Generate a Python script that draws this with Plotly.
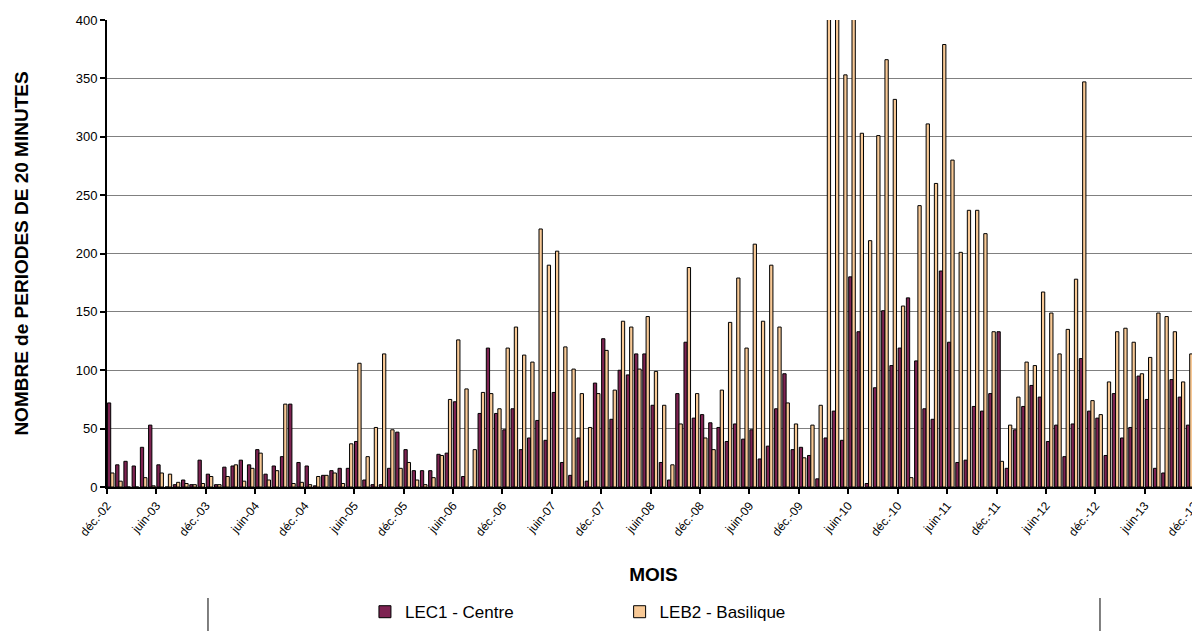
import plotly.graph_objects as go

# Month labels for the ticks (every 6 months)
tick_labels = ["déc.-02", "juin-03", "déc.-03", "juin-04", "déc.-04", "juin-05",
               "déc.-05", "juin-06", "déc.-06", "juin-07", "déc.-07", "juin-08",
               "déc.-08", "juin-09", "déc.-09", "juin-10", "déc.-10", "juin-11",
               "déc.-11", "juin-12", "déc.-12", "juin-13", "déc.-13"]

# Monthly values, déc-02 .. déc-13
lec1_centre = [72, 19, 22, 18, 34, 53, 19, 0, 2, 6, 2, 23, 11, 2, 17, 18, 23, 19, 32, 11,
               18, 26, 71, 21, 18, 1, 10, 14, 16, 16, 39, 6, 2, 2, 16, 47, 32, 14, 14, 14,
               28, 29, 73, 9, 0, 63, 119, 63, 49, 67, 32, 42, 57, 40, 81, 21, 10, 42, 5, 89,
               127, 58, 100, 96, 114, 114, 70, 21, 6, 80, 124, 59, 62, 55, 51, 39, 54, 41, 49, 24,
               35, 67, 97, 32, 34, 27, 7, 42, 65, 40, 180, 133, 3, 85, 151, 104, 119, 162, 108, 67,
               58, 185, 124, 21, 23, 69, 65, 80, 133, 16, 49, 69, 87, 77, 39, 53, 26, 54, 110, 65,
               59, 27, 80, 42, 51, 95, 75, 16, 12, 92, 77, 53, 87]

leb2_basilique = [12, 5, 0, 0, 8, 1, 12, 11, 4, 3, 2, 3, 9, 2, 9, 19, 5, 16, 29, 6,
                  14, 71, 3, 4, 2, 9, 10, 12, 3, 37, 106, 26, 51, 114, 49, 16, 21, 6, 2, 8,
                  27, 75, 126, 84, 32, 81, 80, 67, 119, 137, 113, 107, 221, 190, 202, 120, 101, 80, 51, 80,
                  117, 83, 142, 137, 101, 146, 99, 70, 19, 54, 188, 80, 42, 32, 83, 141, 179, 119, 208, 142,
                  190, 137, 72, 54, 25, 53, 70, 420, 430, 353, 415, 303, 211, 301, 366, 332, 155, 8, 241, 311,
                  260, 379, 280, 201, 237, 237, 217, 133, 22, 53, 77, 107, 104, 167, 149, 114, 135, 178, 347, 74,
                  62, 90, 133, 136, 124, 97, 111, 149, 146, 133, 90, 114, 58]

months = list(range(len(lec1_centre)))
x_pos = [m + 0.45 for m in months]
tick_vals = [6 * i for i in range(len(tick_labels))]

FONT = "Liberation Sans, Arial, sans-serif"

fig = go.Figure()
fig.add_trace(go.Bar(
    x=x_pos, y=lec1_centre, name="LEC1 - Centre",
    marker=dict(color="#7E2352", line=dict(color="black", width=1)),
    legend="legend",
))
fig.add_trace(go.Bar(
    x=x_pos, y=leb2_basilique, name="LEB2 - Basilique",
    marker=dict(color="#F8C996", line=dict(color="black", width=1)),
    legend="legend2",
))

fig.update_layout(
    width=1192, height=623,
    margin=dict(l=99, r=0, t=12, b=144),
    paper_bgcolor="white", plot_bgcolor="white",
    barmode="group", bargap=0.2, bargroupgap=0.0,
    font=dict(family=FONT, color="black"),
    showlegend=True,
    legend=dict(x=0.236, y=-0.268, xanchor="left", yanchor="middle",
                orientation="h", font=dict(size=17, family=FONT), bgcolor="rgba(0,0,0,0)"),
    legend2=dict(x=0.469, y=-0.268, xanchor="left", yanchor="middle",
                 orientation="h", font=dict(size=17, family=FONT), bgcolor="rgba(0,0,0,0)"),
    xaxis=dict(
        range=[0, 132.7], tickmode="array", tickvals=tick_vals, ticktext=tick_labels,
        tickangle=-50, tickfont=dict(size=12, family=FONT), ticklabeloverflow="allow",
        ticks="outside", ticklen=5, tickwidth=2, tickcolor="black",
        showline=True, linecolor="black", linewidth=2, showgrid=False, zeroline=False,
        title=dict(text="<b>MOIS</b>", font=dict(size=19, family=FONT), standoff=30),
    ),
    yaxis=dict(
        range=[0, 400], dtick=50, tickfont=dict(size=13, family=FONT),
        ticks="outside", ticklen=5, tickwidth=2, tickcolor="black",
        showline=True, linecolor="black", linewidth=2,
        showgrid=True, gridcolor="#808080", gridwidth=1, zeroline=False,
        title=dict(text="<b>NOMBRE de PERIODES DE 20 MINUTES</b>", font=dict(size=19, family=FONT), standoff=42),
    ),
    shapes=[
        dict(type="line", xref="paper", yref="paper", x0=0.0924, x1=0.0924, y0=-0.2377, y1=-0.31,
             line=dict(color="black", width=1)),
        dict(type="line", xref="paper", yref="paper", x0=0.9085, x1=0.9085, y0=-0.2377, y1=-0.31,
             line=dict(color="black", width=1)),
    ],
)

fig.write_html("out.html")
